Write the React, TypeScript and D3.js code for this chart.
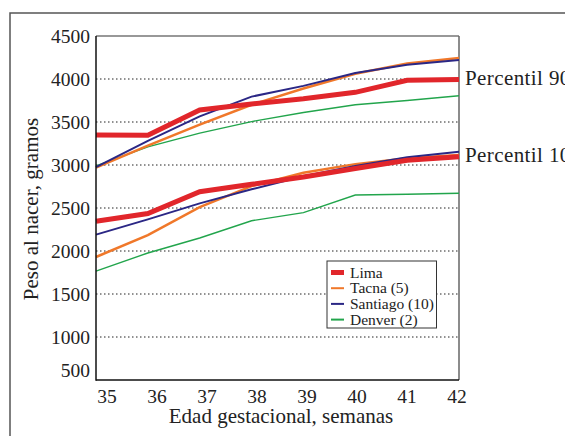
import React from "react";
import * as d3 from "d3";

const weeks = [35, 36, 37, 38, 39, 40, 41, 42];
const yTicks = [500, 1000, 1500, 2000, 2500, 3000, 3500, 4000, 4500];
const gridValues = [1000, 1500, 2000, 2500, 3000, 3500, 4000];

const limaP90 = [3350, 3345, 3640, 3710, 3770, 3845, 3985, 3995];
const tacnaP90 = [2970, 3225, 3470, 3700, 3890, 4060, 4180, 4245];
const santiagoP90 = [2975, 3280, 3565, 3795, 3920, 4070, 4165, 4220];
const denverP90 = [2990, 3210, 3370, 3505, 3610, 3700, 3750, 3805];

const limaP10 = [2345, 2435, 2690, 2775, 2860, 2960, 3055, 3095];
const tacnaP10 = [1930, 2185, 2510, 2755, 2910, 3010, 3078, 3115];
const santiagoP10 = [2190, 2368, 2554, 2717, 2870, 2988, 3090, 3155];
const denverP10 = [1765, 1977, 2151, 2352, 2446, 2651, 2660, 2672];

const seriesNames = ["Lima", "Tacna (5)", "Santiago (10)", "Denver (2)"];
const seriesColors = ["#e1262b", "#f0782a", "#2b2785", "#22a54c"];
const seriesWidths = [5, 2.5, 2, 1.4];
const p90 = [limaP90, tacnaP90, santiagoP90, denverP90];
const p10 = [limaP10, tacnaP10, santiagoP10, denverP10];

const font = "'Liberation Serif', 'Times New Roman', serif";

export default function App() {
  const x = d3.scaleLinear().domain([35, 42]).range([96, 459]);
  const xl = d3.scalePoint<number>().domain(weeks).range([107, 457]);
  const y = d3.scaleLinear().domain([500, 4500]).range([380, 36]);
  const line = d3
    .line<number>()
    .x((_, i) => x(weeks[i]))
    .y((d) => y(d));

  const order = [3, 1, 2, 0];
  return (
    <svg
      width={565}
      height={436}
      style={{ position: "absolute", left: 0, top: 0, background: "#fff" }}
      fontFamily={font}
    >
      <rect x={10} y={13} width={700} height={600} fill="none" stroke="#555" strokeWidth={1.5} />
      {gridValues.map((v) => (
        <line
          key={v}
          x1={x(35)}
          x2={x(42)}
          y1={y(v)}
          y2={y(v)}
          stroke="#222"
          strokeWidth={1}
          strokeDasharray="1.5,2.5"
        />
      ))}
      <line x1={x(35)} x2={x(42)} y1={y(4500)} y2={y(4500)} stroke="#333" strokeWidth={1.2} />
      <line x1={x(42)} x2={x(42)} y1={y(4500)} y2={y(500)} stroke="#666" strokeWidth={1.5} />
      {order.map((i) => (
        <g key={i}>
          <path d={line(p90[i]) || ""} fill="none" stroke={seriesColors[i]} strokeWidth={seriesWidths[i]} />
          <path d={line(p10[i]) || ""} fill="none" stroke={seriesColors[i]} strokeWidth={seriesWidths[i]} />
        </g>
      ))}
      <line x1={x(35)} x2={x(35)} y1={y(4500)} y2={y(500) + 0.75} stroke="#111" strokeWidth={1.5} />
      <line x1={x(35)} x2={x(42)} y1={y(500)} y2={y(500)} stroke="#111" strokeWidth={1.5} />
      {yTicks.map((v) => (
        <text
          key={v}
          x={90}
          y={y(v)}
          dy={v === 500 ? "-0.15em" : "0.35em"}
          textAnchor="end"
          fontSize={19.5}
          fill="#222"
        >
          {v}
        </text>
      ))}
      {weeks.map((w) => (
        <text key={w} x={xl(w)} y={403} textAnchor="middle" fontSize={19.5} fill="#222">
          {w}
        </text>
      ))}
      <text x={281} y={423} textAnchor="middle" fontSize={21} fill="#222">
        Edad gestacional, semanas
      </text>
      <text
        transform={`translate(37.5,${209}) rotate(-90)`}
        textAnchor="middle"
        fontSize={21}
        fill="#222"
      >
        Peso al nacer, gramos
      </text>
      <text x={465} y={85} fontSize={21} fill="#222" letterSpacing={0.4}>
        Percentil 90
      </text>
      <text x={465} y={162} fontSize={21} fill="#222" letterSpacing={0.4}>
        Percentil 10
      </text>
      <g>
        <rect x={327} y={261} width={109.5} height={67} fill="#fff" stroke="#333" strokeWidth={1} />
        {seriesNames.map((n, i) => (
          <g key={n} transform={`translate(0,${272.5 + i * 15.7})`}>
            <line x1={331} x2={344} y1={0} y2={0} stroke={seriesColors[i]} strokeWidth={i === 0 ? 5 : 2} />
            <text x={350} y={0} dy="0.33em" fontSize={15.5} fill="#222">
              {n}
            </text>
          </g>
        ))}
      </g>
    </svg>
  );
}
